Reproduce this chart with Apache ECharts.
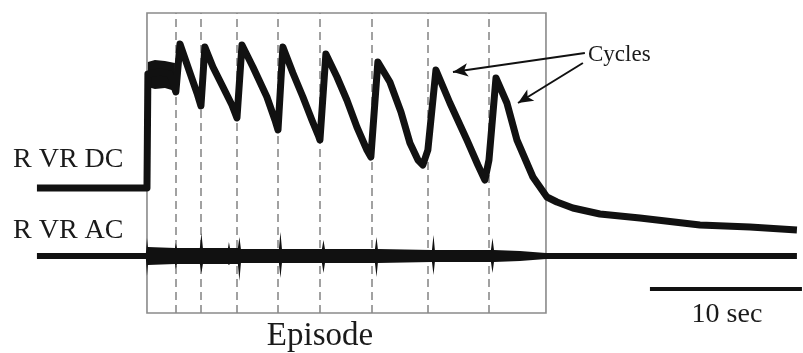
<!DOCTYPE html>
<html>
<head>
<meta charset="utf-8">
<script src="https://cdn.jsdelivr.net/npm/echarts@6/dist/echarts.min.js"></script>
<style>
  html, body { margin: 0; padding: 0; background: #fff; }
  #chart { width: 803px; height: 353px; }
</style>
</head>
<body>
<div id="chart"></div>
<script>
// time in seconds, signal in arbitrary units
const dcTime = [0, 7.24, 7.30, 8.09, 8.75, 9.14, 9.41, 10.07, 10.53, 10.79, 11.05, 11.58, 12.24, 12.83, 13.16,
  13.49, 14.21, 15.13, 15.66, 15.86, 16.18, 16.84, 17.50, 18.09, 18.55, 18.62, 19.01, 19.74, 20.39, 21.05,
  21.71, 21.97, 22.04, 22.43, 23.22, 23.95, 24.54, 25.07, 25.39, 25.72, 26.25, 27.17, 28.29, 29.01, 29.47,
  29.74, 30.20, 30.92, 31.58, 32.63, 33.55, 34.21, 35.26, 37.04, 39.67, 43.62, 46.91, 50.00];
const dcValue = [165, 165, 279, 281, 279, 261, 309, 280, 260, 247, 306, 286, 266, 248, 235,
  308, 286, 256, 233, 223, 306, 280, 256, 233, 216, 213, 299, 276, 253, 226,
  203, 196, 195, 291, 271, 241, 210, 193, 188, 203, 283, 250, 213, 188, 173,
  193, 275, 250, 213, 176, 156, 151, 145, 139, 135, 128, 126, 123];

// noisy plateau at the start of the episode (upper / lower edge)
const plateauTime = [7.30, 7.76, 8.42, 9.08];
const plateauTop = [291, 293, 292, 290];
const plateauBottom = [266, 264, 265, 262];

// AC trace envelope
const acTime = [0, 7.17, 7.24, 7.30, 9.08, 9.14, 9.21, 10.72, 10.82, 10.92, 12.57, 12.63, 12.70, 13.22, 13.32,
  13.42, 15.92, 16.02, 16.12, 18.75, 18.85, 18.95, 22.24, 22.34, 22.43, 25.99, 26.09, 26.18, 29.87, 29.97,
  30.07, 31.78, 33.49, 50.00];
const acTop = [100, 100, 115, 106, 105, 110, 105, 105, 120, 105, 105, 111, 105, 105, 116,
  104, 104, 121, 104, 104, 113, 104, 104, 116, 104, 103, 118, 103, 103, 115,
  103, 102, 100, 100];
const acBottom = [94, 94, 77, 88, 89, 84, 89, 89, 80, 89, 89, 88, 89, 89, 72,
  90, 90, 75, 90, 90, 80, 90, 90, 76, 90, 91, 78, 91, 91, 80,
  91, 92, 94, 94];

// episode box and cycle onsets
const episode = [7.24, 33.49];
const cycleStarts = [9.14, 10.79, 13.16, 15.86, 18.62, 22.04, 25.72, 29.74];
const boxLow = 40, boxHigh = 340;

// 10 s scale bar
const scaleBar = [[40.33, 64], [50.33, 64]];

const serif = '"Liberation Serif", "Times New Roman", serif';
const ink = '#111';

function bandItem(times, top, bottom) {
  return function (params, api) {
    const pts = [];
    times.forEach((t, i) => pts.push(api.coord([t, top[i]])));
    for (let i = times.length - 1; i >= 0; i--) pts.push(api.coord([times[i], bottom[i]]));
    return { type: 'polygon', shape: { points: pts }, style: { fill: ink } };
  };
}

const chart = echarts.init(document.getElementById('chart'));
chart.setOption({
  animation: false,
  grid: { left: 0, right: 0, top: 0, bottom: 0 },
  xAxis: { type: 'value', min: -2.43, max: 50.4, show: false },
  yAxis: { type: 'value', min: 0, max: 353, show: false },
  graphic: [
    { type: 'text', x: 13, y: 160, style: { text: 'R VR DC', font: '28px ' + serif, fill: '#1a1a1a', textVerticalAlign: 'middle' } },
    { type: 'text', x: 13, y: 231, style: { text: 'R VR AC', font: '28px ' + serif, fill: '#1a1a1a', textVerticalAlign: 'middle' } },
    { type: 'text', x: 320, y: 336, style: { text: 'Episode', font: '33px ' + serif, fill: '#1a1a1a', textAlign: 'center', textVerticalAlign: 'middle' } },
    { type: 'text', x: 727, y: 315, style: { text: '10 sec', font: '28px ' + serif, fill: '#1a1a1a', textAlign: 'center', textVerticalAlign: 'middle' } },
    { type: 'text', x: 588, y: 55, style: { text: 'Cycles', font: '23px ' + serif, fill: '#1a1a1a', textVerticalAlign: 'middle' } }
  ],
  series: [
    {
      name: 'RVR DC',
      type: 'line',
      data: dcTime.map((t, i) => [t, dcValue[i]]),
      symbol: 'none',
      lineStyle: { color: ink, width: 7, join: 'round' },
      z: 5,
      markArea: {
        silent: true,
        itemStyle: { color: 'rgba(0,0,0,0)', borderColor: '#8a8a8a', borderWidth: 1.6 },
        data: [[{ coord: [episode[0], boxLow] }, { coord: [episode[1], boxHigh] }]]
      },
      markLine: {
        silent: true,
        symbol: 'none',
        label: { show: false },
        lineStyle: { color: '#8a8a8a', width: 1.6, type: [8, 5] },
        data: cycleStarts.map(t => [{ coord: [t, boxLow] }, { coord: [t, boxHigh] }])
      }
    },
    {
      name: 'DC plateau',
      type: 'custom',
      data: [[plateauTime[0], plateauTop[0]]],
      renderItem: bandItem(plateauTime, plateauTop, plateauBottom),
      silent: true,
      z: 5
    },
    {
      name: 'RVR AC',
      type: 'custom',
      data: [[acTime[0], acTop[0]]],
      renderItem: bandItem(acTime, acTop, acBottom),
      silent: true,
      z: 5
    },
    {
      name: 'scale',
      type: 'line',
      data: scaleBar,
      symbol: 'none',
      lineStyle: { color: ink, width: 4, cap: 'butt' },
      markLine: {
        silent: true,
        symbol: ['none', 'arrow'],
        symbolSize: [10, 15],
        label: { show: false },
        lineStyle: { color: ink, width: 2, type: 'solid' },
        data: [
          [{ coord: [36.05, 300] }, { coord: [27.37, 281] }],
          [{ coord: [35.92, 290] }, { coord: [31.65, 250] }]
        ]
      }
    }
  ]
});
</script>
</body>
</html>
